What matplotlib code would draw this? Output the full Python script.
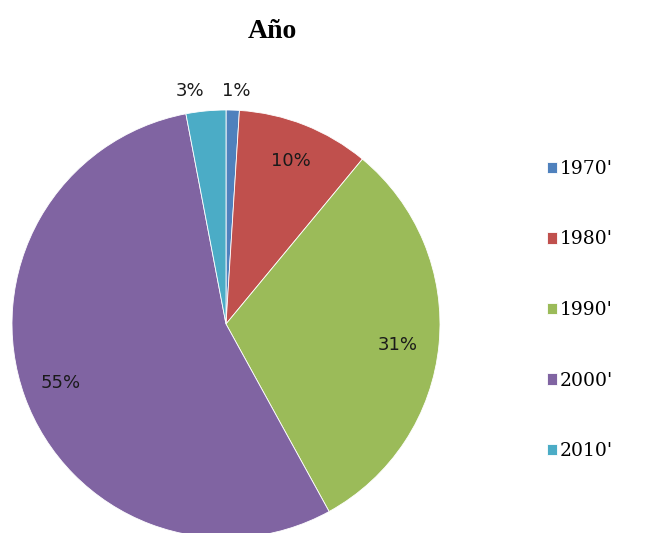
import matplotlib.pyplot as plt

# Chart data
decades = ["1970'", "1980'", "1990'", "2000'", "2010'"]
shares = [1, 10, 31, 55, 3]
colors = ["#4F81BD", "#C0504D", "#9BBB59", "#8064A2", "#4BACC6"]
title = "Año"

fig = plt.figure(figsize=(6.51, 5.33), dpi=100)
ax = fig.add_axes([12 / 651, -5 / 533, 428 / 651, 428 / 533])

wedges, texts, autotexts = ax.pie(
    shares, colors=colors, startangle=90, counterclock=False,
    autopct="%d%%", pctdistance=0.82, radius=1.0,
    wedgeprops=dict(edgecolor="white", linewidth=0.6),
    textprops=dict(fontsize=13, color="#1a1a1a", family="DejaVu Sans"))
ax.set_xlim(-1, 1)
ax.set_ylim(-1, 1)
ax.set_aspect("equal")

# Small slices get their labels outside the pie
autotexts[0].set_position((0.05, 1.09))
autotexts[4].set_position((-0.17, 1.09))
autotexts[2].set_position((0.80, -0.10))

fig.text(272 / 651, 1 - 32 / 533, title, ha="center", va="center",
         fontsize=20, fontweight="bold", family="Liberation Serif")

fig.legend(wedges, decades, loc="center left",
           bbox_to_anchor=(530 / 651, 1 - 310 / 533), frameon=False,
           handlelength=0.55, handleheight=0.55, handletextpad=0.15,
           labelspacing=2.8, prop=dict(family="DejaVu Serif", size=13.5))

fig.savefig("out.png", dpi=100)
